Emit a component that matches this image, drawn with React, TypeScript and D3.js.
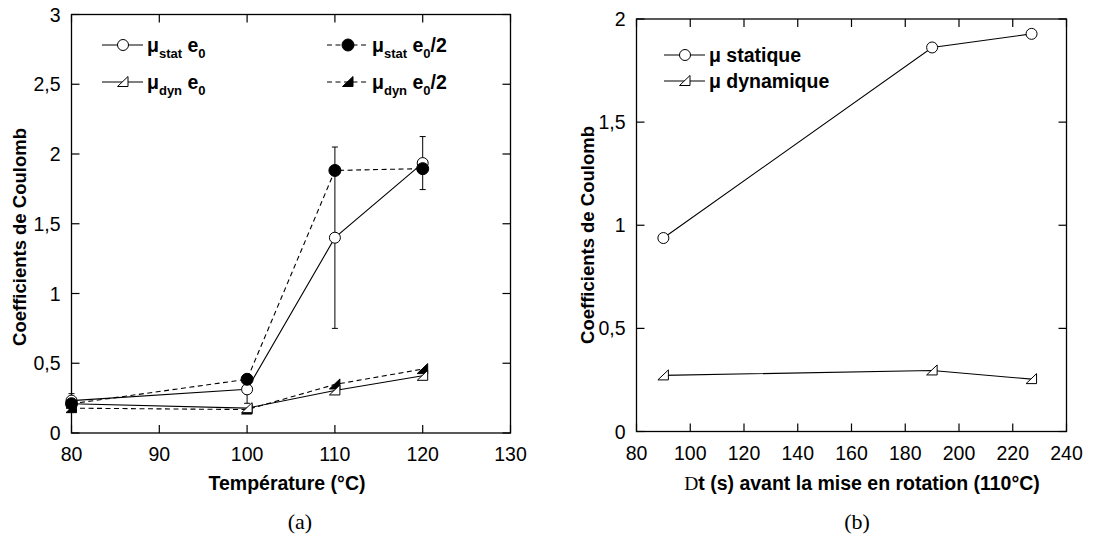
import React from "react";
import * as d3 from "d3";

// ---------- Data (a) ----------
const tempA = [80, 100, 110, 120];
const statE0 = [0.232, 0.313, 1.40, 1.935];
const statE0Err = [0.05, 0.1, 0.65, 0.19];
const statE0half = [0.21, 0.385, 1.882, 1.895];
const dynE0 = [0.21, 0.178, 0.305, 0.41];
const dynE0half = [0.178, 0.168, 0.348, 0.458];
const xTicksA = [80, 90, 100, 110, 120, 130];
const yTicksA = [0, 0.5, 1, 1.5, 2, 2.5, 3];

// ---------- Data (b) ----------
const dtB = [90, 190, 227];
const statB = [0.938, 1.862, 1.928];
const dynB = [0.272, 0.296, 0.254];
const xTicksB = [80, 100, 120, 140, 160, 180, 200, 220, 240];
const yTicksB = [0, 0.5, 1, 1.5, 2];

const SANS = "'Liberation Sans', Arial, sans-serif";
const SERIF = "'Liberation Serif', 'Times New Roman', serif";
const fmt = (v: number) => String(v).replace(".", ",");

const TICK = 8;

function Frame({ x, y, xTicks, yTicks }: any) {
  const [x0, x1] = x.range();
  const [y0, y1] = y.range();
  return (
    <g>
      <rect x={x0} y={y1} width={x1 - x0} height={y0 - y1} fill="none" stroke="#000" strokeWidth={1.3} />
      {xTicks.map((t: number) => (
        <g key={"x" + t}>
          <line x1={x(t)} x2={x(t)} y1={y0} y2={y0 - TICK} stroke="#000" strokeWidth={1.2} />
          <line x1={x(t)} x2={x(t)} y1={y1} y2={y1 + TICK} stroke="#000" strokeWidth={1.2} />
          <text x={x(t)} y={y0 + 28} textAnchor="middle" fontFamily={SANS} fontSize={19.5}>
            {t}
          </text>
        </g>
      ))}
      {yTicks.map((t: number) => (
        <g key={"y" + t}>
          <line x1={x0} x2={x0 + TICK} y1={y(t)} y2={y(t)} stroke="#000" strokeWidth={1.2} />
          <line x1={x1} x2={x1 - TICK} y1={y(t)} y2={y(t)} stroke="#000" strokeWidth={1.2} />
          <text x={x0 - 11} y={y(t) + 7} textAnchor="end" fontFamily={SANS} fontSize={19.5}>
            {fmt(t)}
          </text>
        </g>
      ))}
    </g>
  );
}

function Marker({ kind, cx, cy }: { kind: string; cx: number; cy: number }) {
  if (kind === "oc") return <circle cx={cx} cy={cy} r={5.5} fill="#fff" stroke="#000" strokeWidth={1} />;
  if (kind === "fc") return <circle cx={cx} cy={cy} r={6} fill="#000" stroke="#000" strokeWidth={1} />;
  const pts = `${cx - 5.5},${cy + 4.5} ${cx + 5},${cy + 4.5} ${cx + 5},${cy - 5.5}`;
  if (kind === "ot") return <polygon points={pts} fill="#fff" stroke="#000" strokeWidth={1} />;
  return <polygon points={pts} fill="#000" stroke="#000" strokeWidth={1} />;
}

function Series({ xs, ys, x, y, kind, dashed }: any) {
  const line = d3
    .line<number>()
    .x((_, i) => x(xs[i]))
    .y((d) => y(d));
  return (
    <g>
      <path d={line(ys) || ""} fill="none" stroke="#000" strokeWidth={1.1} strokeDasharray={dashed ? "5,3.5" : undefined} />
      {ys.map((v: number, i: number) => (
        <Marker key={i} kind={kind} cx={x(xs[i])} cy={y(v)} />
      ))}
    </g>
  );
}

function LegendEntry({ x, y, kind, dashed, main, sub, tail, sub2, tail2 }: any) {
  return (
    <g>
      <line x1={x} x2={x + 41} y1={y} y2={y} stroke="#000" strokeWidth={1.1} strokeDasharray={dashed ? "5,3.5" : undefined} />
      <Marker kind={kind} cx={x + 21} cy={y} />
      <text x={x + 45} y={y + 7} fontFamily={SANS} fontWeight="bold" fontSize={19.5}>
        {main}
        {sub !== undefined && (
          <tspan fontSize={13} dy={6}>
            {sub}
          </tspan>
        )}
        {tail !== undefined && <tspan dy={-6}>{tail}</tspan>}
        {sub2 !== undefined && (
          <tspan fontSize={13} dy={6}>
            {sub2}
          </tspan>
        )}
        {tail2 !== undefined && <tspan dy={-6}>{tail2}</tspan>}
      </text>
    </g>
  );
}

export default function App() {
  // Chart (a)
  const xA = d3.scaleLinear().domain([80, 130]).range([71.5, 510.5]);
  const yA = d3.scaleLinear().domain([0, 3]).range([433, 14.5]);
  // Chart (b)
  const xB = d3.scaleLinear().domain([80, 240]).range([636.5, 1066.5]);
  const yB = d3.scaleLinear().domain([0, 2]).range([431.5, 19]);

  return (
    <svg width={1111} height={535} style={{ position: "absolute", left: 0, top: 0, background: "#fff" }}>
      <rect width={1111} height={535} fill="#fff" />
      {/* ----- (a) ----- */}
      <Frame x={xA} y={yA} xTicks={xTicksA} yTicks={yTicksA} />
      {tempA.map((t, i) => {
        const cx = xA(t);
        const lo = yA(statE0[i] - statE0Err[i]);
        const hi = yA(statE0[i] + statE0Err[i]);
        return (
          <g key={"e" + i}>
            <line x1={cx} x2={cx} y1={lo} y2={hi} stroke="#000" strokeWidth={1} />
            <line x1={cx - 3} x2={cx + 3} y1={lo} y2={lo} stroke="#000" strokeWidth={1} />
            <line x1={cx - 3} x2={cx + 3} y1={hi} y2={hi} stroke="#000" strokeWidth={1} />
          </g>
        );
      })}
      <Series xs={tempA} ys={dynE0half} x={xA} y={yA} kind="ft" dashed />
      <Series xs={tempA} ys={dynE0} x={xA} y={yA} kind="ot" />
      <Series xs={tempA} ys={statE0} x={xA} y={yA} kind="oc" />
      <Series xs={tempA} ys={statE0half} x={xA} y={yA} kind="fc" dashed />

      <LegendEntry x={102} y={45} kind="oc" main="μ" sub="stat" tail=" e" sub2="0" />
      <LegendEntry x={102} y={82} kind="ot" main="μ" sub="dyn" tail=" e" sub2="0" />
      <LegendEntry x={327} y={45} kind="fc" dashed main="μ" sub="stat" tail=" e" sub2="0" tail2="/2" />
      <LegendEntry x={327} y={82} kind="ft" dashed main="μ" sub="dyn" tail=" e" sub2="0" tail2="/2" />

      <text x={287} y={490} textAnchor="middle" fontFamily={SANS} fontWeight="bold" fontSize={19.5}>
        Température (°C)
      </text>
      <text transform="translate(26,237) rotate(-90)" textAnchor="middle" fontFamily={SANS} fontWeight="bold" fontSize={18.5}>
        Coefficients de Coulomb
      </text>
      <text x={300} y={529} textAnchor="middle" fontFamily={SERIF} fontSize={22}>
        (a)
      </text>

      {/* ----- (b) ----- */}
      <Frame x={xB} y={yB} xTicks={xTicksB} yTicks={yTicksB} />
      <Series xs={dtB} ys={statB} x={xB} y={yB} kind="oc" />
      <Series xs={dtB} ys={dynB} x={xB} y={yB} kind="ot" />

      <LegendEntry x={664} y={55} kind="oc" main="μ statique" />
      <LegendEntry x={664} y={81} kind="ot" main="μ dynamique" />

      <text x={862} y={490} textAnchor="middle" fontFamily={SANS} fontWeight="bold" fontSize={19.5}>
        <tspan fontFamily={SERIF} fontWeight="normal">D</tspan>t (s) avant la mise en rotation (110°C)
      </text>
      <text transform="translate(594,235) rotate(-90)" textAnchor="middle" fontFamily={SANS} fontWeight="bold" fontSize={18.5}>
        Coefficients de Coulomb
      </text>
      <text x={857} y={529} textAnchor="middle" fontFamily={SERIF} fontSize={22}>
        (b)
      </text>
    </svg>
  );
}
